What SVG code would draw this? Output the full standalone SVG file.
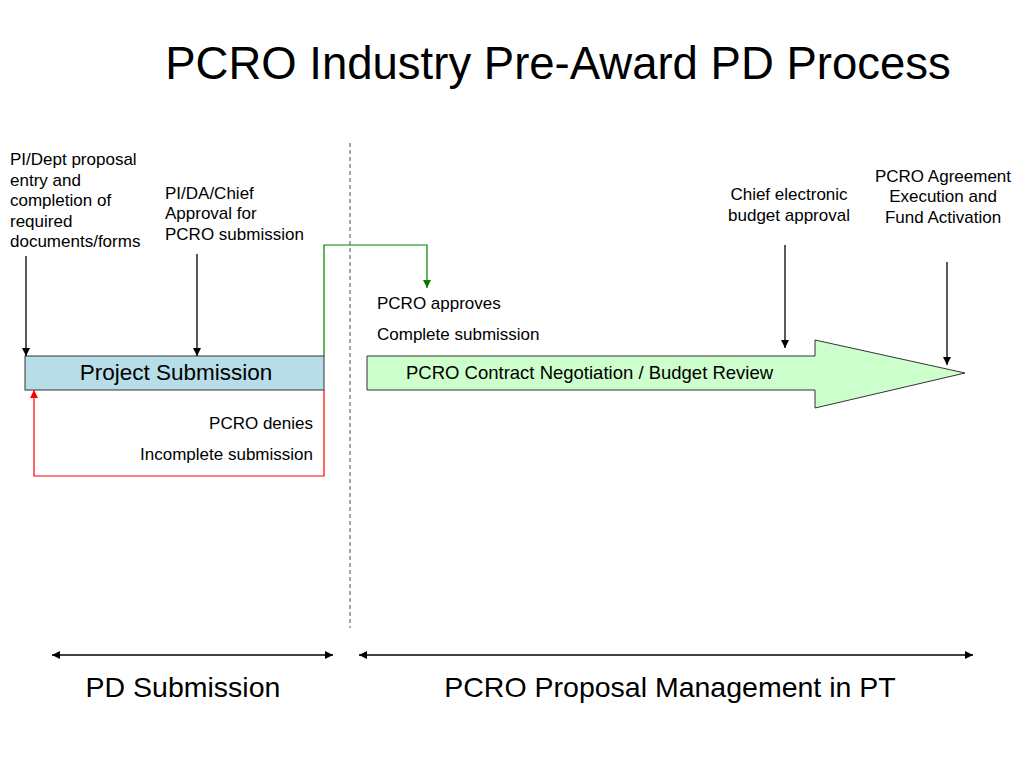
<svg xmlns="http://www.w3.org/2000/svg" width="1024" height="768" viewBox="0 0 1024 768">
<style>
text{font-family:"Liberation Sans",Arial,sans-serif;fill:#000}
.s{font-size:17px}
.m{font-size:18.5px}
.b{font-size:28.5px}
.ln{stroke:#000;stroke-width:1.3;fill:none}
</style>
<defs>
<marker id="ak" markerWidth="10" markerHeight="10" refX="9" refY="5" orient="auto" markerUnits="userSpaceOnUse"><path d="M1,1 L9,5 L1,9 z" fill="#000"/></marker>
<marker id="aks" markerWidth="10" markerHeight="10" refX="1" refY="5" orient="auto" markerUnits="userSpaceOnUse"><path d="M9,1 L1,5 L9,9 z" fill="#000"/></marker>
<marker id="ag" markerWidth="10" markerHeight="10" refX="9" refY="5" orient="auto" markerUnits="userSpaceOnUse"><path d="M1,1 L9,5 L1,9 z" fill="#008000"/></marker>
<marker id="ar" markerWidth="10" markerHeight="10" refX="9" refY="5" orient="auto" markerUnits="userSpaceOnUse"><path d="M1,1 L9,5 L1,9 z" fill="#ff0000"/></marker>
</defs>
<rect width="1024" height="768" fill="#fff"/>
<text x="558" y="79" font-size="45.5" text-anchor="middle">PCRO Industry Pre-Award PD Process</text>

<line x1="350" y1="143" x2="350" y2="628" stroke="#777" stroke-width="1.3" stroke-dasharray="4,3"/>

<g id="project-submission">
<rect x="25" y="356" width="299" height="34" fill="#b7dde8" stroke="#333" stroke-width="1"/>
<text x="176" y="380" font-size="22.5" text-anchor="middle">Project Submission</text>
</g>

<g id="pcro-negotiation">
<path d="M367,356 L815,356 L815,340 L965,373 L815,408 L815,390 L367,390 Z" fill="#ccffcc" stroke="#333" stroke-width="1"/>
<text x="406" y="379" class="m">PCRO Contract Negotiation / Budget Review</text>
</g>

<g id="label-pi-dept">
<text class="s" x="10" y="165">PI/Dept proposal</text>
<text class="s" x="10" y="186">entry and</text>
<text class="s" x="10" y="206">completion of</text>
<text class="s" x="10" y="227">required</text>
<text class="s" x="10" y="247">documents/forms</text>
</g>
<g id="label-pi-da">
<text class="s" x="165" y="199">PI/DA/Chief</text>
<text class="s" x="165" y="219">Approval for</text>
<text class="s" x="165" y="240">PCRO submission</text>
</g>
<g id="label-chief">
<text class="s" x="789" y="200" text-anchor="middle">Chief electronic</text>
<text class="s" x="789" y="221" text-anchor="middle">budget approval</text>
</g>
<g id="label-agreement">
<text class="s" x="943" y="182" text-anchor="middle">PCRO Agreement</text>
<text class="s" x="943" y="202" text-anchor="middle">Execution and</text>
<text class="s" x="943" y="223" text-anchor="middle">Fund Activation</text>
</g>
<g id="label-approves">
<text class="s" x="377" y="309">PCRO approves</text>
<text class="s" x="377" y="340">Complete submission</text>
</g>
<g id="label-denies">
<text class="s" x="313" y="429" text-anchor="end">PCRO denies</text>
<text class="s" x="313" y="460" text-anchor="end">Incomplete submission</text>
</g>

<g id="connectors">
<line class="ln" x1="26" y1="256" x2="26" y2="356" marker-end="url(#ak)"/>
<line class="ln" x1="197" y1="254" x2="197" y2="356" marker-end="url(#ak)"/>
<line class="ln" x1="785" y1="245" x2="785" y2="348" marker-end="url(#ak)"/>
<line class="ln" x1="947" y1="262" x2="947" y2="365" marker-end="url(#ak)"/>
<path d="M324,356 L324,245 L427,245 L427,288" fill="none" stroke="#008000" stroke-width="1.2" marker-end="url(#ag)"/>
<path d="M324,390 L324,476 L34,476 L34,390" fill="none" stroke="#ff0000" stroke-width="1.2" marker-end="url(#ar)"/>
<line class="ln" x1="52" y1="655" x2="333" y2="655" marker-start="url(#aks)" marker-end="url(#ak)"/>
<line class="ln" x1="359" y1="655" x2="973" y2="655" marker-start="url(#aks)" marker-end="url(#ak)"/>
</g>

<text class="b" x="183" y="697" text-anchor="middle">PD Submission</text>
<text class="b" x="670" y="697" text-anchor="middle">PCRO Proposal Management in PT</text>
</svg>
